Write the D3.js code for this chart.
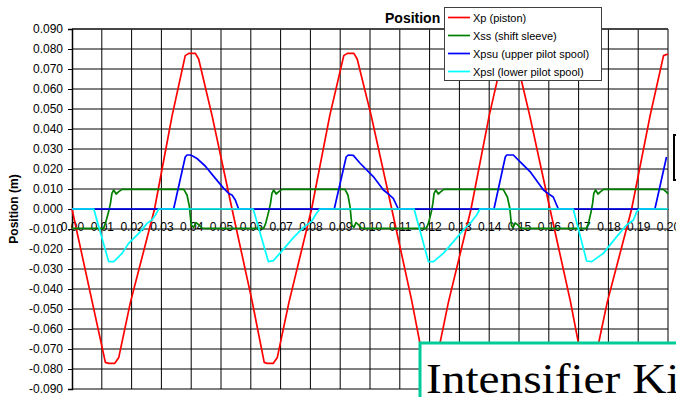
<!DOCTYPE html>
<html>
<head>
<meta charset="utf-8">
<script src="https://cdn.jsdelivr.net/npm/d3@7"></script>
<style>
  html, body { margin: 0; padding: 0; background: #fff; overflow: hidden; }
  svg { display: block; }
</style>
</head>
<body>
<svg id="chart" width="676" height="397"></svg>
<script>
// ---- data ----
const xTickValues = [0,0.01,0.02,0.03,0.04,0.05,0.06,0.07,0.08,0.09,0.10,0.11,0.12,0.13,0.14,0.15,0.16,0.17,0.18,0.19,0.20];
const xTickLabels = ["0.00","0.01","0.02","0.03","0.04","0.05","0.06","0.07","0.08","0.09","0.10","0.11","0.12","0.13","0.14","0.15","0.16","0.17","0.18","0.19","0.20"];
const yTickValues = [0.09,0.08,0.07,0.06,0.05,0.04,0.03,0.02,0.01,0,-0.01,-0.02,-0.03,-0.04,-0.05,-0.06,-0.07,-0.08,-0.09];
const yTickLabels = ["0.090","0.080","0.070","0.060","0.050","0.040","0.030","0.020","0.010","0.000","-0.010","-0.020","-0.030","-0.040","-0.050","-0.060","-0.070","-0.080","-0.090"];

const seriesNames = ["Xp (piston)","Xss (shift sleeve)","Xpsu (upper pilot spool)","Xpsl (lower pilot spool)"];

const xpTime = [0,0.0112,0.0123,0.0143,0.0157,0.0196,0.0277,0.0336,0.0380,0.0392,0.0414,0.0425,0.0470,0.0537,0.0604,
  0.0645,0.0655,0.0675,0.0689,0.0728,0.0804,0.0865,0.0912,0.0924,0.0946,0.0957,0.1004,0.1073,0.1140,
  0.1180,0.1191,0.1211,0.1225,0.1263,0.1339,0.1400,0.1446,0.1458,0.1480,0.1491,0.1536,0.1604,0.1672,
  0.1712,0.1723,0.1743,0.1757,0.1796,0.1878,0.1940,0.1985,0.2000];
const xpValue = [0,-0.0767,-0.0772,-0.0772,-0.0742,-0.0467,0,0.0467,0.0767,0.0778,0.0778,0.0750,0.0467,0,-0.0458,
  -0.0767,-0.0772,-0.0772,-0.0742,-0.0467,0,0.0467,0.0767,0.0778,0.0778,0.0750,0.0467,0,-0.0458,
  -0.0767,-0.0772,-0.0772,-0.0742,-0.0467,0,0.0467,0.0767,0.0778,0.0778,0.0750,0.0467,0,-0.0458,
  -0.0767,-0.0772,-0.0772,-0.0742,-0.0467,0,0.0467,0.0767,0.0775];

const xssTime = [0,0.0106,0.0112,0.0123,0.0129,0.0134,0.0140,0.0148,0.0157,0.0168,0.0375,0.0386,0.0394,0.0400,0.0408,0.0416,0.0425,0.0436,0.0450,
  0.0643,0.0650,0.0660,0.0666,0.0671,0.0677,0.0685,0.0694,0.0705,0.0916,0.0926,0.0933,0.0939,0.0946,0.0953,0.0961,0.0971,0.0985,
  0.1189,0.1196,0.1206,0.1211,0.1215,0.1221,0.1229,0.1238,0.1248,0.1447,0.1461,0.1469,0.1475,0.1480,0.1487,0.1495,0.1505,0.1517,
  0.1726,0.1733,0.1742,0.1747,0.1751,0.1757,0.1765,0.1774,0.1784,0.1984,0.1995,0.2000];
const xssValue = [-0.0097,-0.0097,-0.0072,-0.0013,0.0028,0.0078,0.0095,0.0075,0.0087,0.0098,0.0098,0.0070,0.0012,-0.0080,-0.0092,-0.0068,-0.0078,-0.0095,-0.0097,
  -0.0097,-0.0072,-0.0013,0.0028,0.0078,0.0095,0.0075,0.0087,0.0098,0.0098,0.0070,0.0012,-0.0080,-0.0092,-0.0068,-0.0078,-0.0095,-0.0097,
  -0.0097,-0.0072,-0.0013,0.0028,0.0078,0.0095,0.0075,0.0087,0.0098,0.0098,0.0060,0.0005,-0.0085,-0.0092,-0.0070,-0.0078,-0.0095,-0.0097,
  -0.0097,-0.0072,-0.0013,0.0028,0.0078,0.0095,0.0075,0.0087,0.0098,0.0098,0.0085,0.0075];

const xpsuTime = [0,0.0341,0.0380,0.0386,0.0397,0.0408,0.0419,0.0447,0.0481,0.0509,0.0526,0.0537,0.0548,0.0559,
  0.0880,0.0920,0.0927,0.0944,0.0966,0.1011,0.1045,0.1062,0.1078,0.1095,
  0.1416,0.1454,0.1459,0.1481,0.1503,0.1537,0.1582,0.1598,0.1615,0.1632,
  0.1956,0.1995];
const xpsuValue = [0,0,0.0260,0.0270,0.0270,0.0262,0.0253,0.0215,0.0153,0.0103,0.0078,0.0070,0.0045,0,
  0,0.0260,0.0270,0.0268,0.0230,0.0162,0.0095,0.0075,0.0053,0,
  0,0.0260,0.0270,0.0270,0.0237,0.0187,0.0095,0.0077,0.0060,0,
  0,0.0260];

const xpslTime = [0,0.0073,0.0123,0.0140,0.0168,0.0190,0.0224,0.0252,0.0268,0.0280,0.0291,
  0.0608,0.0659,0.0676,0.0709,0.0743,0.0776,0.0804,0.0821,0.0832,
  0.1148,0.1196,0.1213,0.1246,0.1280,0.1313,0.1341,0.1358,0.1369,
  0.1682,0.1727,0.1744,0.1783,0.1828,0.1861,0.1884,0.1895,0.1904,0.2000];
const xpslValue = [0,0,-0.0263,-0.0263,-0.0222,-0.0172,-0.0122,-0.0072,-0.0055,-0.0030,0,
  0,-0.0263,-0.0258,-0.0202,-0.0143,-0.0093,-0.0062,-0.0020,0,
  0,-0.0263,-0.0263,-0.0222,-0.0163,-0.0105,-0.0063,-0.0030,0,
  0,-0.0260,-0.0263,-0.0222,-0.0138,-0.0080,-0.0055,-0.0013,0,0];

const seriesColors = ["#ff0000","#008000","#0000ff","#00ffff"];

// ---- layout ----
const svg = d3.select("#chart");
const FONT = "'Liberation Sans', Arial, sans-serif";
const x = d3.scaleLinear().domain([0, 0.2]).range([72, 668]);
const y = d3.scaleLinear().domain([-0.09, 0.09]).range([389, 29]);

// grid lines
const grid = svg.append("g");
grid.selectAll("line.v").data(xTickValues.slice(1)).enter().append("line")
  .attr("x1", d => x(d)).attr("x2", d => x(d))
  .attr("y1", y(0.09)).attr("y2", y(-0.09))
  .attr("stroke", "#000").attr("stroke-width", 1);
grid.selectAll("line.h").data(yTickValues).enter().append("line")
  .attr("x1", x(0)).attr("x2", x(0.2))
  .attr("y1", d => y(d)).attr("y2", d => y(d))
  .attr("stroke", "#000").attr("stroke-width", 1);
svg.append("line").attr("x1", x(0)).attr("x2", x(0.2)).attr("y1", y(0.09)).attr("y2", y(0.09))
  .attr("stroke", "#333").attr("stroke-width", 1.5);

// y axis
const yAxis = d3.axisLeft(y).tickValues(yTickValues)
  .tickFormat((d, i) => yTickLabels[i]).tickSize(4).tickPadding(5);
const gy = svg.append("g").attr("transform", `translate(${x(0)},0)`).call(yAxis);
gy.select(".domain").attr("stroke", "#000").attr("stroke-width", 1.5);
gy.selectAll("text").attr("font-family", FONT).attr("font-size", 12).attr("fill", "#000");

// x axis at zero
const xAxis = d3.axisBottom(x).tickValues(xTickValues)
  .tickFormat((d, i) => xTickLabels[i]).tickSize(0).tickPadding(13);
const gx = svg.append("g").attr("transform", `translate(0,${y(0)})`).call(xAxis);
gx.select(".domain").attr("stroke", "#000").attr("stroke-width", 1);
gx.selectAll("text").attr("font-family", FONT).attr("font-size", 12).attr("fill", "#000");

// series
const line = d3.line().x(d => x(d[0])).y(d => y(d[1]));
const seriesData = [
  d3.zip(xpTime, xpValue),
  d3.zip(xssTime, xssValue),
  d3.zip(xpsuTime, xpsuValue),
  d3.zip(xpslTime, xpslValue)
];
seriesData.forEach((pts, i) => {
  svg.append("path").attr("d", line(pts)).attr("fill", "none")
    .attr("stroke", seriesColors[i]).attr("stroke-width", 1.7)
    .attr("stroke-linejoin", "round");
});

// axis title
svg.append("text").attr("transform", `translate(18,${y(0)}) rotate(-90)`)
  .attr("text-anchor", "middle").attr("font-family", FONT).attr("font-weight", "bold")
  .attr("font-size", 12).text("Position (m)");

// chart title
svg.append("text").attr("x", 385).attr("y", 23).attr("font-family", FONT)
  .attr("font-weight", "bold").attr("font-size", 14).text("Position");

// legend
const lg = svg.append("g");
lg.append("rect").attr("x", 444.5).attr("y", 7.5).attr("width", 157).attr("height", 73)
  .attr("fill", "#fff").attr("stroke", "#404040").attr("stroke-width", 1);
seriesNames.forEach((name, i) => {
  const yy = 17.5 + i * 18;
  lg.append("line").attr("x1", 448).attr("x2", 470).attr("y1", yy).attr("y2", yy)
    .attr("stroke", seriesColors[i]).attr("stroke-width", 1.7);
  lg.append("text").attr("x", 473).attr("y", yy + 4).attr("font-family", FONT)
    .attr("font-size", 11).text(name);
});

// partial box at right edge
svg.append("rect").attr("x", 674).attr("y", 135).attr("width", 10).attr("height", 45)
  .attr("fill", "#fff").attr("stroke", "#000").attr("stroke-width", 2);

// overlapping text box bottom-right
svg.append("rect").attr("x", 420).attr("y", 343).attr("width", 300).attr("height", 100)
  .attr("fill", "#fff").attr("stroke", "#00cc99").attr("stroke-width", 3);
svg.append("text").attr("transform", "translate(426,393) scale(1.1,1)")
  .attr("font-family", "'Liberation Serif', 'Times New Roman', serif")
  .attr("font-size", 43).attr("fill", "#000").text("Intensifier Ki");
</script>
</body>
</html>
